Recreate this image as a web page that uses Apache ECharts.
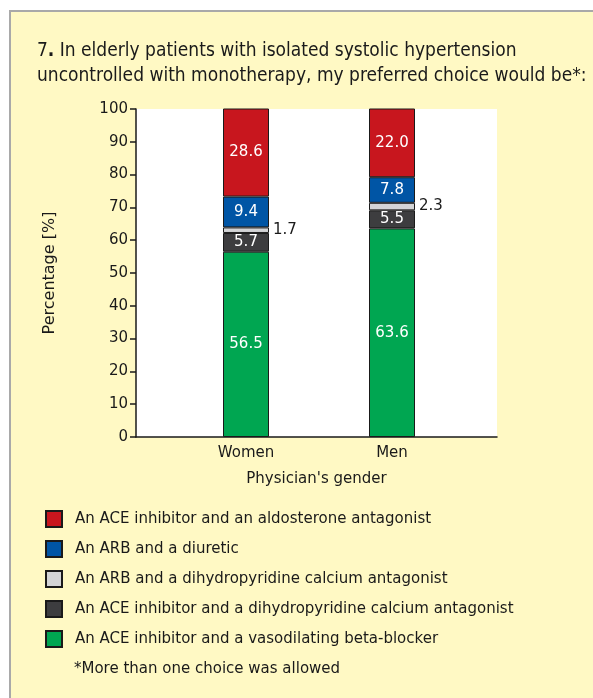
<!DOCTYPE html>
<html lang="en">
<head>
    <meta charset="utf-8"/>
    <title>Preferred choice by physician's gender</title>
    <script src="https://cdn.jsdelivr.net/npm/echarts@6/dist/echarts.min.js"></script>
</head>
<style>
    * {
        margin: 0;
        padding: 0;
    }
    html, body {
        width: 100%;
        height: 100%;
        background: #fff;
        overflow: hidden;
    }
    /* yellow panel behind the chart */
    .box {
        position: absolute;
        left: 9px;
        top: 10px;
        width: 700px;
        height: 800px;
        background: #fff9c4;
        border-left: 2px solid #a9a9a9;
        border-top: 2px solid #a9a9a9;
    }
    .main {
        position: absolute;
        left: 0;
        top: 0;
        width: 593px;
        height: 698px;
    }
</style>
<body>
<div class="box"></div>
<div id="main" class="main"></div>
<script type="text/javascript">
    // categories
    var genders = ['Women', 'Men'];
    var yTicks = [0, 10, 20, 30, 40, 50, 60, 70, 80, 90, 100];

    // series, bottom of the stack first
    var choices = [
        'An ACE inhibitor and a vasodilating beta-blocker',
        'An ACE inhibitor and a dihydropyridine calcium antagonist',
        'An ARB and a dihydropyridine calcium antagonist',
        'An ARB and a diuretic',
        'An ACE inhibitor and an aldosterone antagonist'
    ];
    var betaBlocker = [56.5, 63.6];
    var aceCalcium = [5.7, 5.5];
    var arbCalcium = [1.7, 2.3];
    var arbDiuretic = [9.4, 7.8];
    var aceAldosterone = [28.6, 22.0];

    var values = [betaBlocker, aceCalcium, arbCalcium, arbDiuretic, aceAldosterone];
    var colors = ['#00a651', '#3d3d3f', '#d3d4d6', '#0055a5', '#c8161e'];

    var font = 'DejaVu Sans';
    var titleFont = 'Liberation Sans Narrow, DejaVu Sans Condensed, Liberation Sans';
    var ink = '#1a1a1a';

    var series = choices.map(function (name, i) {
        return {
            name: name,
            type: 'bar',
            stack: 'total',
            xAxisIndex: 1,
            yAxisIndex: 1,
            barWidth: 46,
            clip: true,
            itemStyle: {
                color: colors[i],
                borderColor: '#1a1a1a',
                borderWidth: 1
            },
            label: {
                show: true,
                position: 'inside',
                color: '#fff',
                fontFamily: font,
                fontSize: 15,
                formatter: function (p) { return p.value.toFixed(1); }
            },
            data: values[i].map(function (v) {
                // thin slices get their label outside to the right
                if (v < 3) {
                    return {value: v, label: {position: 'right', distance: 4, color: ink, fontSize: 15}};
                }
                return v;
            })
        };
    });

    var chart = echarts.init(document.getElementById('main'), null, {renderer: 'canvas'});
    chart.setOption({
        backgroundColor: 'transparent',
        animation: false,
        title: [{
            text: '7{b|.} In elderly patients with isolated systolic hypertension\nuncontrolled with monotherapy, my preferred choice would be*:',
            left: 37,
            top: 39,
            padding: 0,
            textStyle: {
                fontFamily: titleFont,
                fontSize: 19,
                fontWeight: 'normal',
                color: ink,
                lineHeight: 25,
                rich: {
                    b: {
                        fontFamily: titleFont,
                        fontSize: 19,
                        fontWeight: 'bold',
                        color: ink,
                        lineHeight: 25
                    }
                }
            }
        }, {
            text: '*More than one choice was allowed',
            left: 74,
            top: 662,
            padding: 0,
            textStyle: {
                fontFamily: font,
                fontSize: 15,
                fontWeight: 'normal',
                color: ink
            }
        }],
        legend: {
            orient: 'vertical',
            left: 45,
            top: 510,
            padding: 0,
            itemWidth: 16,
            itemHeight: 16,
            itemGap: 12,
            icon: 'rect',
            data: choices.slice().reverse(),
            textStyle: {
                fontFamily: font,
                fontSize: 15,
                color: ink,
                padding: [0, 0, 0, 8]
            }
        },
        grid: [
            // frame: white plot area with the axes
            {left: 136, right: 96, top: 109, bottom: 261, show: true, backgroundColor: '#fff', borderWidth: 0},
            // bars
            {left: 173, right: 128, top: 109, bottom: 261}
        ],
        xAxis: [{
            type: 'category',
            gridIndex: 0,
            data: [''],
            name: "Physician's gender",
            nameLocation: 'middle',
            nameGap: 35,
            nameTextStyle: {fontFamily: font, fontSize: 15, color: ink},
            axisLine: {lineStyle: {color: ink, width: 1.5}},
            axisTick: {show: false},
            axisLabel: {show: false}
        }, {
            type: 'category',
            gridIndex: 1,
            data: genders,
            axisLine: {show: false},
            axisTick: {show: false},
            axisLabel: {fontFamily: font, fontSize: 15, color: ink, margin: 9}
        }],
        yAxis: [{
            type: 'value',
            gridIndex: 0,
            min: yTicks[0],
            max: yTicks[yTicks.length - 1],
            interval: 10,
            name: 'Percentage [%]',
            nameLocation: 'middle',
            nameGap: 78,
            nameTextStyle: {fontFamily: font, fontSize: 16, color: ink},
            axisLine: {show: true, lineStyle: {color: ink, width: 1.5}},
            axisTick: {show: true, length: 6, lineStyle: {color: ink, width: 1.5}},
            axisLabel: {fontFamily: font, fontSize: 15, color: ink, margin: 8},
            splitLine: {show: false}
        }, {
            type: 'value',
            gridIndex: 1,
            min: 0,
            max: 100,
            interval: 10,
            show: false,
            splitLine: {show: false}
        }],
        series: series
    });
</script>
</body>
</html>
